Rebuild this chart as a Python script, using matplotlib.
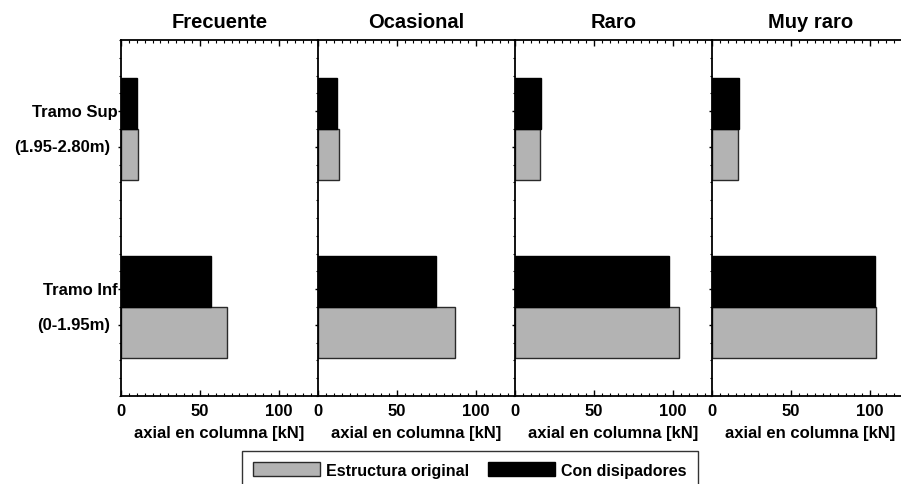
import matplotlib
matplotlib.use("Agg")
import matplotlib.pyplot as plt
from matplotlib.patches import Patch
from matplotlib.ticker import MultipleLocator, FixedLocator

# Data: axial force in columns [kN] for each seismic level
levels = ["Frecuente", "Ocasional", "Raro", "Muy raro"]
segments = ["Tramo Inf", "Tramo Sup"]          # bottom group, top group
segment_ranges = ["(0-1.95m)", "(1.95-2.80m)"]
original = {                                    # Estructura original
    "Frecuente": [66.9, 10.5],
    "Ocasional": [86.7, 13.5],
    "Raro":      [104.0, 15.8],
    "Muy raro":  [104.0, 16.5],
}
dissipators = {                                 # Con disipadores
    "Frecuente": [56.7, 10.1],
    "Ocasional": [74.4, 12.0],
    "Raro":      [97.3, 16.3],
    "Muy raro":  [103.4, 17.1],
}
x_ticks = [0, 50, 100]
x_label = "axial en columna [kN]"
legend_labels = ["Estructura original", "Con disipadores"]

plt.rcParams["font.family"] = ["Liberation Sans", "DejaVu Sans"]
plt.rcParams["font.weight"] = "bold"

W, H = 901, 485
fig = plt.figure(figsize=(W / 100, H / 100), dpi=100)

gray = "#b3b3b3"
panel_w = 197
left0, top, bottom = 121, 41, 397
bar_h = 0.284
ypos = [0, 1]

for i, lvl in enumerate(levels):
    ax = fig.add_axes([(left0 + i * panel_w) / W, (H - bottom) / H,
                       panel_w / W, (bottom - top) / H])
    ax.barh([y - bar_h / 2 for y in ypos], original[lvl], height=bar_h,
            color=gray, edgecolor="#2a2a2a", linewidth=1.0, zorder=2)
    ax.barh([y + bar_h / 2 for y in ypos], dissipators[lvl], height=bar_h,
            color="black", edgecolor="black", linewidth=1.0, zorder=2)
    ax.set_xlim(0, 124.7)
    ax.set_ylim(-0.5, 1.5)
    ax.xaxis.set_major_locator(FixedLocator(x_ticks))
    ax.xaxis.set_minor_locator(MultipleLocator(5))
    ax.tick_params(axis="x", which="both", direction="in", top=True, bottom=True,
                   labelsize=12, pad=5)
    ax.tick_params(axis="x", which="major", length=4, width=1)
    ax.tick_params(axis="x", which="minor", length=2, width=0.8)
    ax.yaxis.set_major_locator(FixedLocator([-0.1, 0.1, 0.9, 1.1]))
    ax.yaxis.set_minor_locator(MultipleLocator(0.1))
    ax.tick_params(axis="y", which="both", direction="out", left=True, right=False,
                   labelleft=False)
    ax.tick_params(axis="y", which="major", length=2.5, width=1)
    ax.tick_params(axis="y", which="minor", length=1.5, width=0.8)
    for s in ax.spines.values():
        s.set_linewidth(1.3)
    ax.spines["right"].set_visible(False)
    ax.set_xlabel(x_label, fontsize=12, fontweight="bold", labelpad=5)
    ax.set_title(lvl, fontsize=14.5, fontweight="bold", pad=9)
    for lab in ax.get_xticklabels():
        lab.set_fontweight("bold")

    if i == 0:
        for y, seg, rng in zip(ypos, segments, segment_ranges):
            ax.text(-0.015, y + 0.1, seg, transform=ax.get_yaxis_transform(),
                    ha="right", va="center", fontsize=12, fontweight="bold")
            ax.text(-0.055, y - 0.1, rng, transform=ax.get_yaxis_transform(),
                    ha="right", va="center", fontsize=12, fontweight="bold")

handles = [Patch(facecolor=gray, edgecolor="#2a2a2a", linewidth=1.0),
           Patch(facecolor="black", edgecolor="black", linewidth=1.0)]
leg = fig.legend(handles, legend_labels, loc="upper left",
                 bbox_to_anchor=(242 / W, (H - 452) / H), ncol=2,
                 prop={"size": 11.5, "weight": "bold"}, borderaxespad=0,
                 handlelength=4.2, handleheight=1.0, handletextpad=0.35,
                 columnspacing=1.2, borderpad=0.7, frameon=True, fancybox=False)
leg.get_frame().set_edgecolor("black")
leg.get_frame().set_linewidth(1.0)

fig.savefig("out.png", dpi=100)
